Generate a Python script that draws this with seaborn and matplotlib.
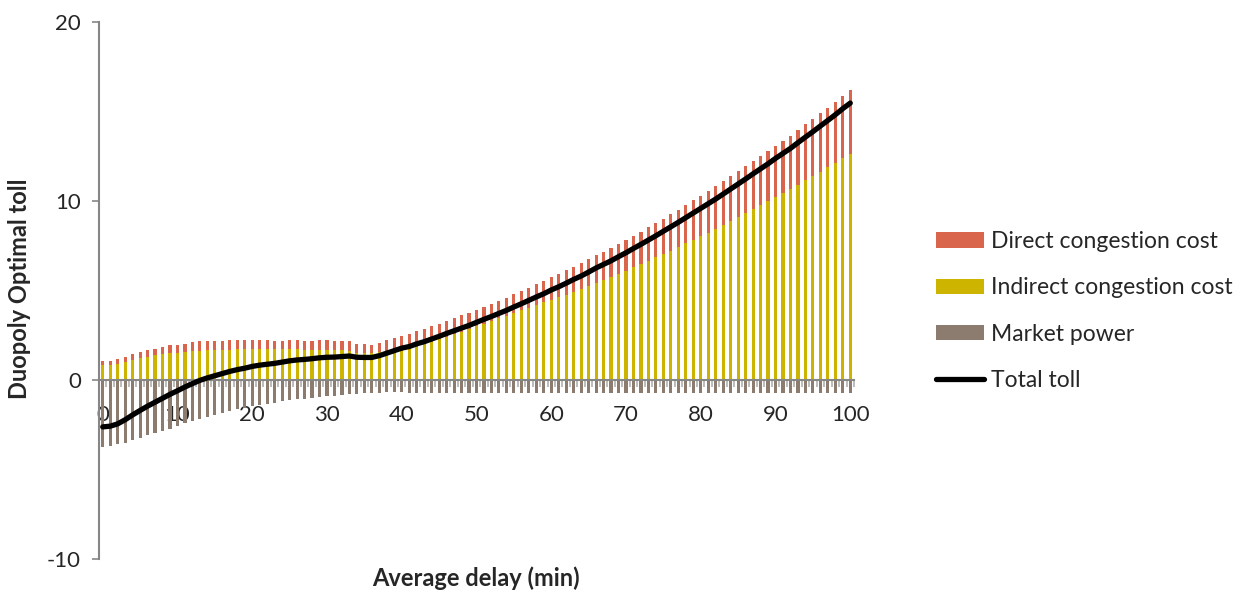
import numpy as np
import matplotlib
matplotlib.use("Agg")
import matplotlib.pyplot as plt
import seaborn as sns
from matplotlib.patches import Patch
from matplotlib.lines import Line2D

# average delay (min), one bar per minute
delay = list(range(101))

indirect = [
    0.82, 0.84, 0.91, 1.02, 1.12, 1.21, 1.30, 1.38, 1.43, 1.49,
    1.53, 1.56, 1.60, 1.64, 1.66, 1.68, 1.68, 1.69, 1.71, 1.71,
    1.71, 1.73, 1.71, 1.71, 1.71, 1.71, 1.71, 1.69, 1.68, 1.68,
    1.66, 1.68, 1.66, 1.64, 1.53, 1.51, 1.49, 1.54, 1.57, 1.60,
    1.63, 1.72, 1.85, 1.99, 2.14, 2.27, 2.42, 2.57, 2.70, 2.85,
    3.00, 3.15, 3.30, 3.45, 3.59, 3.74, 3.89, 4.04, 4.19, 4.34,
    4.49, 4.63, 4.77, 4.92, 5.08, 5.25, 5.42, 5.59, 5.75, 5.92,
    6.11, 6.29, 6.48, 6.66, 6.85, 7.04, 7.22, 7.43, 7.64, 7.82,
    8.03, 8.23, 8.44, 8.64, 8.87, 9.09, 9.31, 9.54, 9.76, 9.98,
    10.20, 10.43, 10.65, 10.90, 11.17, 11.40, 11.64, 11.88, 12.12, 12.38,
    12.63,
]

direct = [
    0.24, 0.24, 0.24, 0.28, 0.31, 0.34, 0.36, 0.37, 0.41, 0.45,
    0.43, 0.47, 0.50, 0.52, 0.50, 0.48, 0.48, 0.54, 0.54, 0.51,
    0.52, 0.50, 0.50, 0.49, 0.49, 0.54, 0.52, 0.51, 0.52, 0.55,
    0.55, 0.48, 0.50, 0.52, 0.50, 0.50, 0.48, 0.55, 0.65, 0.75,
    0.84, 0.86, 0.88, 0.86, 0.86, 0.88, 0.89, 0.89, 0.91, 0.91,
    0.93, 0.95, 0.96, 0.98, 1.01, 1.05, 1.08, 1.12, 1.16, 1.19,
    1.25, 1.29, 1.35, 1.41, 1.44, 1.49, 1.55, 1.58, 1.62, 1.68,
    1.71, 1.77, 1.81, 1.87, 1.92, 1.98, 2.05, 2.09, 2.14, 2.22,
    2.27, 2.33, 2.38, 2.46, 2.51, 2.57, 2.63, 2.69, 2.75, 2.81,
    2.89, 2.94, 3.00, 3.07, 3.11, 3.18, 3.26, 3.33, 3.41, 3.49,
    3.55,
]

market_power = [
    -3.72, -3.69, -3.60, -3.50, -3.35, -3.22, -3.09, -2.98, -2.85, -2.72,
    -2.57, -2.42, -2.31, -2.16, -2.05, -1.94, -1.83, -1.73, -1.64, -1.55,
    -1.45, -1.38, -1.32, -1.27, -1.20, -1.14, -1.08, -1.04, -0.99, -0.95,
    -0.91, -0.88, -0.84, -0.80, -0.77, -0.75, -0.73, -0.71, -0.69, -0.68,
    -0.67, -0.70, -0.71, -0.71, -0.70, -0.71, -0.71, -0.72, -0.71, -0.71,
    -0.71, -0.71, -0.72, -0.71, -0.71, -0.71, -0.72, -0.71, -0.71, -0.71,
    -0.72, -0.71, -0.71, -0.71, -0.72, -0.71, -0.71, -0.71, -0.72, -0.71,
    -0.71, -0.72, -0.71, -0.71, -0.72, -0.71, -0.71, -0.72, -0.71, -0.71,
    -0.72, -0.71, -0.72, -0.71, -0.72, -0.71, -0.72, -0.71, -0.72, -0.71,
    -0.72, -0.72, -0.71, -0.72, -0.72, -0.71, -0.72, -0.72, -0.71, -0.72,
    -0.72,
]

total_toll = [
    -2.62, -2.58, -2.45, -2.22, -1.95, -1.70, -1.46, -1.24, -1.02, -0.80,
    -0.60, -0.39, -0.20, -0.02, 0.12, 0.24, 0.36, 0.48, 0.58, 0.66,
    0.76, 0.83, 0.88, 0.93, 1.00, 1.07, 1.12, 1.15, 1.19, 1.24,
    1.27, 1.28, 1.31, 1.34, 1.27, 1.26, 1.26, 1.36, 1.50, 1.64,
    1.78, 1.87, 2.02, 2.14, 2.29, 2.44, 2.60, 2.75, 2.90, 3.05,
    3.22, 3.39, 3.55, 3.72, 3.89, 4.08, 4.26, 4.45, 4.64, 4.82,
    5.03, 5.21, 5.41, 5.62, 5.81, 6.03, 6.26, 6.46, 6.66, 6.89,
    7.11, 7.35, 7.58, 7.82, 8.06, 8.31, 8.56, 8.81, 9.07, 9.33,
    9.59, 9.85, 10.11, 10.39, 10.67, 10.95, 11.23, 11.52, 11.80, 12.08,
    12.38, 12.66, 12.94, 13.26, 13.57, 13.87, 14.19, 14.50, 14.82, 15.16,
    15.47,
]

c_direct = "#D9654D"
c_indirect = "#CDB400"
c_market = "#8C7B6F"

sns.set_style("white")
plt.rcParams["font.family"] = ["Lato", "DejaVu Sans"]
plt.rcParams["axes.unicode_minus"] = False

fig = plt.figure(figsize=(12.54, 5.94), dpi=100)
ax = fig.add_axes([99 / 1254, 1 - 559 / 594, 755 / 1254, 537 / 594])

# stacked: draw full height (indirect + direct) first, indirect on top of it
top = [i + d for i, d in zip(indirect, direct)]
bar_kw = dict(native_scale=True, width=0.42, saturation=1, errorbar=None,
              linewidth=0, ax=ax)
sns.barplot(x=delay, y=top, color=c_direct, **bar_kw)
sns.barplot(x=delay, y=indirect, color=c_indirect, **bar_kw)
sns.barplot(x=delay, y=market_power, color=c_market, **bar_kw)
sns.lineplot(x=delay, y=total_toll, color="black", linewidth=3.8, ax=ax,
             legend=False, zorder=5)

ax.set_xlim(-0.5, 100.5)
ax.set_ylim(-10, 20)
ax.set_yticks([-10, 0, 10, 20])
ax.set_xticks(range(0, 101, 10))
ax.set_xticks(np.arange(-0.5, 101, 1), minor=True)
ax.set_xlabel("")
ax.set_ylabel("")

for s in ["top", "right"]:
    ax.spines[s].set_visible(False)
ax.spines["bottom"].set_position(("data", 0))
for s in ["left", "bottom"]:
    ax.spines[s].set_color("#868686")
    ax.spines[s].set_linewidth(1.5)
ax.spines["bottom"].set_zorder(1)

ax.tick_params(axis="y", direction="out", length=5, width=1.2, color="#868686",
               labelsize=16, pad=8, left=True)
ax.tick_params(axis="x", which="major", length=0, labelsize=16, pad=18)
ax.tick_params(axis="x", which="minor", direction="out", length=5, width=1.2,
               color="#B0B0B0", bottom=True)

fig.text(476 / 1254, 1 - 578 / 594, "Average delay (min)", ha="center",
         va="center", fontsize=17, fontweight="bold")
fig.text(20 / 1254, 1 - 289 / 594, "Duopoly Optimal toll", ha="center",
         va="center", rotation=90, fontsize=17, fontweight="bold")

handles = [
    Patch(facecolor=c_direct, edgecolor="none"),
    Patch(facecolor=c_indirect, edgecolor="none"),
    Patch(facecolor=c_market, edgecolor="none"),
    Line2D([0], [0], color="black", linewidth=3.8),
]
labels = ["Direct congestion cost", "Indirect congestion cost", "Market power", "Total toll"]
fig.legend(handles, labels, loc="center left",
           bbox_to_anchor=(936 / 1254, 1 - 311 / 594), frameon=False,
           fontsize=16.5, handlelength=2.1, handleheight=0.65,
           handletextpad=0.3, labelspacing=1.1, borderpad=0, borderaxespad=0)

fig.savefig("out.png", dpi=100)
